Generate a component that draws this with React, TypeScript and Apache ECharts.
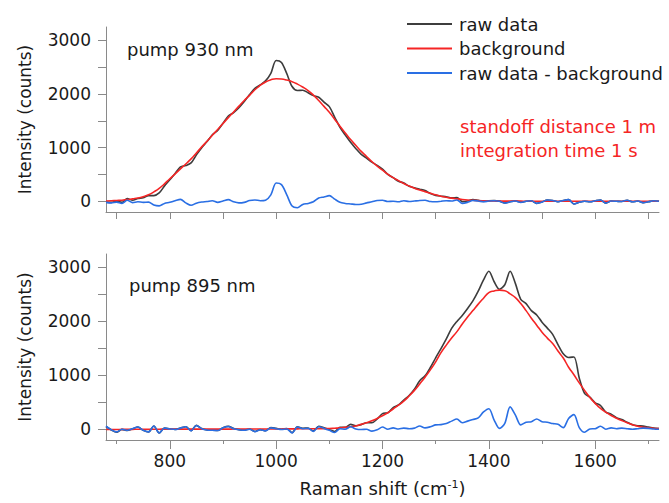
import React, { useEffect, useRef } from "react";
import * as echarts from "echarts";

// Raman shift sampling (cm^-1)
const ramanShift = [
  680, 690, 700, 710, 720, 730, 740, 750, 760, 770,
  780, 790, 800, 810, 820, 830, 840, 850, 860, 870,
  880, 890, 900, 910, 920, 930, 940, 950, 960, 970,
  980, 990, 1000, 1010, 1020, 1030, 1040, 1050, 1060, 1070,
  1080, 1090, 1100, 1110, 1120, 1130, 1140, 1150, 1160, 1170,
  1180, 1190, 1200, 1210, 1220, 1230, 1240, 1250, 1260, 1270,
  1280, 1290, 1300, 1310, 1320, 1330, 1340, 1350, 1360, 1370,
  1380, 1390, 1400, 1410, 1420, 1430, 1440, 1450, 1460, 1470,
  1480, 1490, 1500, 1510, 1520, 1530, 1540, 1550, 1560, 1570,
  1580, 1590, 1600, 1610, 1620, 1630, 1640, 1650, 1660, 1670,
  1680, 1690, 1700, 1710, 1720,
];

// pump 930 nm
const raw930 = [
  -15, -20, 0, -20, 50, 20, 50, 65, 105, 105,
  155, 285, 400, 520, 640, 665, 715, 865, 1000, 1115,
  1240, 1320, 1455, 1590, 1655, 1745, 1860, 1990, 2105, 2170,
  2245, 2385, 2625, 2590, 2380, 2140, 2065, 2070, 2025, 1970,
  1940, 1850, 1765, 1570, 1380, 1235, 1100, 980, 875, 805,
  730, 670, 600, 500, 440, 375, 340, 280, 250, 225,
  200, 145, 110, 95, 85, 63, 70, -6, 5, 33,
  17, -2, 10, 14, 3, -32, -8, 7, -18, 1,
  11, -39, -14, 25, 15, -10, 15, 30, -50, -20,
  0, -10, 10, 25, -35, 5, 0, -5, 20, -10,
  5, -25, -10, 10, 0,
];
const background930 = [
  5, 10, 15, 20, 30, 45, 60, 85, 120, 175,
  240, 325, 420, 510, 605, 695, 790, 900, 1015, 1120,
  1230, 1340, 1450, 1560, 1665, 1775, 1880, 1975, 2080, 2160,
  2225, 2265, 2285, 2280, 2260, 2230, 2185, 2130, 2065, 1980,
  1880, 1770, 1660, 1530, 1400, 1275, 1150, 1040, 930, 835,
  740, 655, 580, 505, 440, 385, 330, 285, 245, 210,
  180, 150, 120, 95, 75, 58, 45, 34, 25, 18,
  12, 8, 5, 4, 3, 3, 2, 2, 2, 1,
  1, 1, 1, 0, 0, 0, 0, 0, 0, 0,
  0, 0, 0, 0, 0, 0, 0, 0, 0, 0,
  0, 0, 0, 0, 0,
];
const diff930 = [
  -20, -30, -15, -40, 20, -25, -10, -20, -15, -70,
  -85, -40, -20, 10, 35, -30, -75, -35, -15, -5,
  10, -20, 5, 30, -10, -30, -20, 15, 25, 10,
  20, 120, 340, 310, 120, -90, -120, -60, -40, -10,
  60, 80, 105, 40, -20, -40, -50, -60, -55, -30,
  -10, 15, 20, -5, 0, -10, 10, -5, 5, 15,
  20, -5, -10, 0, 10, 5, 25, -40, -20, 15,
  5, -10, 5, 10, 0, -35, -10, 5, -20, 0,
  10, -40, -15, 25, 15, -10, 15, 30, -50, -20,
  0, -10, 10, 25, -35, 5, 0, -5, 20, -10,
  5, -25, -10, 10, 0,
];

// pump 895 nm
const raw895 = [
  50, -15, -55, -3, -23, 8, 40, -20, -50, 60,
  -70, 22, 7, -3, 22, 47, -28, 72, 12, -13,
  -18, -23, 27, 52, 13, -7, -17, 3, -42, -7,
  -27, 29, 15, 0, 11, -64, 47, 18, 23, -31,
  55, 26, -8, -42, 35, 35, 90, 65, 85, 120,
  120, 190, 290, 305, 400, 450, 540, 625, 740, 900,
  990, 1145, 1325, 1495, 1675, 1870, 2000, 2110, 2240, 2380,
  2560, 2770, 2930, 2735, 2595, 2680, 2930, 2700, 2410, 2330,
  2200, 2120, 1985, 1875, 1760, 1570, 1400, 1330, 1340, 950,
  665, 595, 490, 440, 315, 280, 215, 180, 130, 85,
  65, 58, 40, 23, 12,
];
const background895 = [
  -5, -5, -5, -3, -3, -2, 0, 0, 0, 0,
  0, 2, 2, 2, 2, 2, 2, 2, 2, 2,
  2, 2, 2, 2, 3, 3, 3, 3, 3, 3,
  3, 4, 5, 5, 6, 6, 7, 8, 8, 9,
  10, 11, 12, 18, 25, 35, 45, 60, 90, 120,
  155, 200, 250, 305, 375, 445, 520, 615, 720, 840,
  965, 1100, 1250, 1420, 1560, 1690, 1810, 1950, 2080, 2200,
  2320, 2430, 2535, 2565, 2580, 2570, 2510, 2440, 2330, 2200,
  2060, 1930, 1800, 1690, 1590, 1450, 1320, 1150, 1010, 860,
  720, 590, 480, 385, 315, 255, 205, 160, 120, 85,
  55, 38, 25, 18, 12,
];
const diff895 = [
  55, -10, -50, 0, -20, 10, 40, -20, -50, 60,
  -70, 20, 5, -5, 20, 45, -30, 70, 10, -15,
  -20, -25, 25, 50, 10, -10, -20, 0, -45, -10,
  -30, 25, 10, -5, 5, -70, 40, 10, 15, -40,
  45, 15, -20, -60, 10, 0, 45, 5, -5, 0,
  -35, -10, 40, 0, 25, 5, 20, 10, 20, 60,
  25, 45, 80, 85, 105, 150, 190, 120, 150, 180,
  210, 320, 380, 170, 15, 110, 415, 260, 80, 130,
  140, 190, 140, 130, 105, 90, 30, 200, 270, 30,
  -55, 5, 10, 55, 0, 25, 10, 20, 10, 0,
  10, 20, 15, 5, 0,
];

const xAllTicks = [700, 800, 900, 1000, 1100, 1200, 1300, 1400, 1500, 1600, 1700];
const xMajorTicks = [800, 1000, 1200, 1400, 1600];
const xMinorTicks = [700, 900, 1100, 1300, 1500, 1700];
const yTicks = [0, 500, 1000, 1500, 2000, 2500, 3000];
const yLabels = [0, 1000, 2000, 3000];

const FONT = "DejaVu Sans";
const AXIS_GRAY = "#8a8a8a";
const TEXT = "#1a1a1a";
const C_RAW = "#3d3d3d";
const C_BG = "#f52525";
const C_DIFF = "#2a6fe4";

const pairs = (ys: number[]) => ramanShift.map((x, i) => [x, ys[i]]);
const plain = (v: number) => String(v);

export default function App() {
  const ref = useRef<HTMLDivElement>(null);
  useEffect(() => {
    if (!ref.current) return;
    const chart = echarts.init(ref.current, null, { renderer: "svg" });
    const yAxisBase = (grid: number) => ({
      type: "value",
      gridIndex: grid,
      min: -200,
      max: 3250,
      axisLine: { show: true, onZero: false, lineStyle: { color: AXIS_GRAY, width: 1 } },
      axisTick: { show: true, customValues: yTicks, length: 8, lineStyle: { color: AXIS_GRAY } },
      axisLabel: { customValues: yLabels, formatter: plain, fontSize: 17, color: TEXT, margin: 15, fontFamily: FONT },
      splitLine: { show: false },
      name: "Intensity (counts)",
      nameLocation: "middle",
      nameGap: 73,
      nameTextStyle: { fontSize: 17, color: TEXT, fontFamily: FONT },
    });
    const lineSeries = (name: string, ys: number[], color: string, grid: number, smooth: number, z: number) => ({
      type: "line",
      name,
      xAxisIndex: grid === 0 ? 0 : 1,
      yAxisIndex: grid,
      data: pairs(ys),
      symbol: "none",
      showSymbol: false,
      smooth,
      z,
      lineStyle: { color, width: 1.6 },
      itemStyle: { color },
    });
    chart.setOption({
      animation: false,
      backgroundColor: "#ffffff",
      textStyle: { fontFamily: FONT },
      grid: [
        { left: 106, right: 10, top: 27, height: 185 },
        { left: 106, right: 10, top: 254, height: 186 },
      ],
      xAxis: [
        {
          type: "value",
          gridIndex: 0,
          min: 680,
          max: 1720,
          axisLine: { show: true, onZero: false, lineStyle: { color: AXIS_GRAY, width: 1 } },
          axisTick: { show: true, customValues: xAllTicks, length: 7, lineStyle: { color: AXIS_GRAY } },
          axisLabel: { show: false },
          splitLine: { show: false },
        },
        {
          type: "value",
          gridIndex: 1,
          min: 680,
          max: 1720,
          axisLine: { show: true, onZero: false, lineStyle: { color: AXIS_GRAY, width: 1 } },
          axisTick: { show: true, customValues: xMajorTicks, length: 9, lineStyle: { color: AXIS_GRAY } },
          axisLabel: { customValues: xMajorTicks, formatter: plain, fontSize: 17, color: TEXT, margin: 12, fontFamily: FONT },
          splitLine: { show: false },
          name: "{n|Raman shift (cm}{sup|-1}{n|)}",
          nameLocation: "middle",
          nameGap: 39,
          nameTextStyle: {
            fontFamily: FONT,
            color: TEXT,
            rich: {
              n: { fontSize: 18, fontFamily: FONT, color: TEXT, verticalAlign: "bottom" },
              sup: { fontSize: 11, fontFamily: FONT, color: TEXT, verticalAlign: "top" },
            },
          },
        },
        {
          type: "value",
          gridIndex: 1,
          min: 680,
          max: 1720,
          position: "bottom",
          axisLine: { show: false, onZero: false },
          axisTick: { show: true, customValues: xMinorTicks, length: 4, lineStyle: { color: AXIS_GRAY } },
          axisLabel: { show: false },
          splitLine: { show: false },
        },
      ],
      yAxis: [yAxisBase(0), yAxisBase(1)],
      legend: {
        orient: "vertical",
        left: 407,
        top: 15,
        padding: 0,
        icon: "rect",
        itemWidth: 45,
        itemHeight: 2,
        itemGap: 6.5,
        selectedMode: false,
        textStyle: { fontSize: 18, color: TEXT, fontFamily: FONT, padding: [0, 0, 0, 2] },
        data: ["raw data", "background", "raw data - background"],
      },
      graphic: [
        { type: "text", left: 127, top: 40, style: { text: "pump 930 nm", fontSize: 18, fontFamily: FONT, fill: TEXT } },
        { type: "text", left: 129, top: 276, style: { text: "pump 895 nm", fontSize: 18, fontFamily: FONT, fill: TEXT } },
        { type: "text", left: 460, top: 117, style: { text: "standoff distance 1 m", fontSize: 18, fontFamily: FONT, fill: "#f52525" } },
        { type: "text", left: 460, top: 141, style: { text: "integration time 1 s", fontSize: 18, fontFamily: FONT, fill: "#f52525" } },
      ],
      series: [
        lineSeries("raw data", raw930, C_RAW, 0, 0.3, 2),
        lineSeries("background", background930, C_BG, 0, 0.5, 3),
        lineSeries("raw data - background", diff930, C_DIFF, 0, 0.3, 4),
        lineSeries("raw data", raw895, C_RAW, 1, 0.3, 2),
        lineSeries("background", background895, C_BG, 1, 0.5, 3),
        lineSeries("raw data - background", diff895, C_DIFF, 1, 0.3, 4),
      ],
    });
    return () => chart.dispose();
  }, []);
  return (
    <div
      ref={ref}
      style={{ position: "fixed", left: 0, top: 0, width: 669, height: 503, background: "#fff" }}
    />
  );
}
